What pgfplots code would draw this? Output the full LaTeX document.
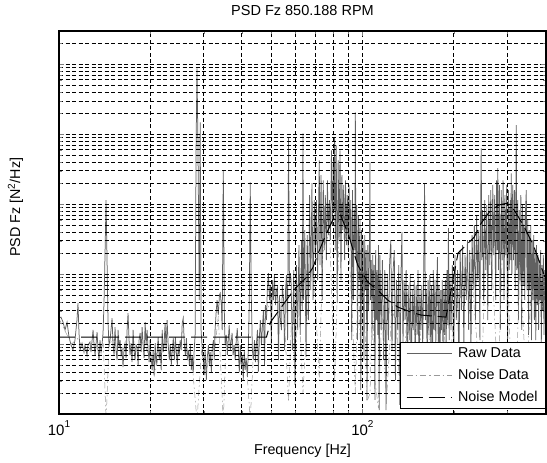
\documentclass[border=0pt]{standalone}
\usepackage{fontspec}
\setmainfont{Liberation Sans}
\usepackage{pgfplots}
\pgfplotsset{compat=1.18}
\newcommand{\tp}[1]{10\raisebox{0.9ex}{\fontsize{10}{10}\selectfont #1}}
\begin{document}
\begin{tikzpicture}
\useasboundingbox (-59pt,-49pt) rectangle (488pt,414pt);
\begin{axis}[
 at={(0pt,0pt)}, anchor=south west, scale only axis, width=487pt, height=383pt,
 xmode=log, ymode=log, xmin=10, xmax=403, ymin=1e-6, ymax=3e-1,
 xtick={10,100}, xticklabels={{\tp{1}},{\tp{2}}},
 minor xtick={20,30,40,50,60,70,80,90,200,300,400},
 ytick={1e-6,1e-5,1e-4,1e-3,1e-2,1e-1}, yticklabels={},
 minor ytick={2e-6,3e-6,4e-6,5e-6,6e-6,7e-6,8e-6,9e-6,2e-5,3e-5,4e-5,5e-5,6e-5,7e-5,8e-5,9e-5,2e-4,3e-4,4e-4,5e-4,6e-4,7e-4,8e-4,9e-4,2e-3,3e-3,4e-3,5e-3,6e-3,7e-3,8e-3,9e-3,2e-2,3e-2,4e-2,5e-2,6e-2,7e-2,8e-2,9e-2,2e-1},
 grid=both,
 major grid style={black, line width=0.8pt, dash pattern=on 4pt off 2.5pt},
 minor grid style={black, line width=0.8pt, dash pattern=on 4pt off 2.5pt},
 tick align=inside, major tick length=5pt, minor tick length=3pt,
 axis line style={line width=1.1pt},
 axis on top,
 xticklabel style={font=\fontsize{15}{15}\selectfont, anchor=base, yshift=-21pt},
 title={PSD Fz 850.188 RPM},
 title style={at={(axis description cs:0.5,1)}, anchor=base, yshift=10pt, font=\fontsize{14.5}{16}\selectfont},
 xlabel={Frequency [Hz]},
 xlabel style={at={(axis description cs:0.5,-0.107)}, anchor=base, font=\fontsize{14.3}{16}\selectfont},
 ylabel={PSD Fz [N\textsuperscript{2}/Hz]},
 ylabel style={at={(axis description cs:-0.080,0.54)}, anchor=base, font=\fontsize{14.3}{16}\selectfont},
 legend style={at={(1,0)}, anchor=south east, yshift=5pt, draw=black, line width=0.8pt, fill=white,
   font=\fontsize{14.3}{16}\selectfont, inner xsep=6pt, inner ysep=3.5pt, row sep=6pt, column sep=4pt, nodes={inner sep=2pt}},
 legend cell align=left,
 legend image code/.code={\draw[#1] (0pt,0pt) -- (45pt,0pt);},
]
\addplot[black!62, line width=0.75pt] coordinates {
(10.0,2.35e-5)(10.15,2.43e-5)(10.31,2.06e-5)(10.47,1.59e-5)(10.63,2.06e-5)(10.79,1.26e-5)(10.96,9.68e-6)(11.12,8.21e-6)(11.29,1.14e-5)(11.46,2.2e-5)(11.55,3.85e-5)(11.64,1.44e-5)(11.73,8.21e-6)(11.91,1.03e-5)(12.09,7.69e-6)(12.18,9.68e-6)(12.37,6.96e-6)(12.46,9.68e-6)(12.65,1.07e-5)(12.75,7.69e-6)(12.95,1.59e-5)(13.05,9.68e-6)(13.15,6.96e-6)(13.35,1.48e-5)(13.45,8.21e-6)(13.55,5.9e-6)(13.65,1.14e-5)(13.76,7.69e-6)(13.86,9.68e-6)(13.97,1.44e-5)(14.08,4.25e-5)(14.19,2.2e-4)(14.29,1.14e-3)(14.40,1.59e-4)(14.51,2.0e-5)(14.62,9.68e-6)
(14.73,1.14e-5)(14.84,1.59e-5)(14.96,2.35e-5)(15.07,9.68e-6)(15.19,6.96e-6)(15.30,1.75e-5)(15.42,8.21e-6)(15.54,5.9e-6)(15.66,1.59e-5)(15.78,8.77e-6)(15.90,1.14e-5)(16.02,6.96e-6)(16.14,8.21e-6)(16.26,4.69e-6)(16.39,8.77e-6)(16.51,1.03e-5)(16.64,6.31e-6)(16.77,1.59e-5)(16.89,2.77e-5)(17.02,1.14e-5)(17.15,6.96e-6)(17.28,1.03e-5)(17.41,5.53e-6)(17.55,1.59e-5)(17.68,8.21e-6)(17.81,5.9e-6)(17.95,9.68e-6)(18.09,9.06e-6)(18.23,5.01e-6)(18.37,1.14e-5)(18.51,1.44e-5)(18.65,7.69e-6)(18.79,1.75e-5)(18.94,9.68e-6)(19.08,6.31e-6)(19.23,2.06e-5)(19.37,9.68e-6)(19.52,1.59e-5)(19.67,8.21e-6)(19.82,5.53e-6)(19.97,1.14e-5)(20.12,6.31e-6)(20.28,4.25e-6)(20.43,8.21e-6)(20.6,3.61e-6)(20.75,1.03e-5)(20.91,5.01e-6)(21.07,7.69e-6)(21.23,1.26e-5)(21.4,5.9e-6)(21.56,8.77e-6)(21.72,4.25e-6)(21.89,1.59e-5)(22.05,7.69e-6)(22.2,9.68e-6)(22.37,2.0e-5)(22.54,8.21e-6)(22.72,2.2e-5)(22.89,1.03e-5)(23.1,5.9e-6)(23.27,9.68e-6)(23.45,5.01e-6)(23.63,8.21e-6)(23.81,1.22e-5)(24.0,5.9e-6)(24.18,1.26e-5)(24.36,7.69e-6)(24.55,5.01e-6)(24.73,9.68e-6)(24.9,6.96e-6)(25.09,1.14e-5)(25.28,8.21e-6)(25.48,2.0e-5)(25.67,2.35e-5)(25.9,9.68e-6)(26.1,6.96e-6)(26.3,1.22e-5)(26.5,5.9e-6)(26.7,8.21e-6)(26.9,5.01e-6)(27.1,9.68e-6)(27.3,4.25e-6)(27.5,6.96e-6)(27.7,3.85e-6)(27.9,8.21e-6)(28.1,1.35e-5)(28.3,5.9e-3)(28.5,8.77e-2)(28.7,8.21e-3)(29.0,4.25e-5)(29.2,1.48e-2)(29.4,1.59e-5)(29.6,9.68e-6)
(29.9,5.9e-6)(30.1,3.61e-6)(30.3,8.21e-6)(30.6,3.06e-6)(30.8,6.31e-6)(31.1,9.68e-6)(31.3,5.01e-6)(31.5,7.69e-6)(31.8,3.98e-6)(32.0,8.77e-6)(32.3,1.14e-5)(32.5,5.9e-6)(32.7,1.59e-5)(33.0,3.06e-5)(33.2,4.25e-5)(33.5,2.6e-5)(33.8,5.01e-5)(34.0,5.35e-5)(34.3,3.61e-5)(34.5,1.59e-5)(34.8,3.06e-3)(35.1,2.2e-5)(35.3,9.68e-6)(35.6,1.35e-5)(35.9,6.96e-6)(36.1,1.07e-5)(36.4,1.87e-5)(36.7,8.21e-6)(37.0,1.14e-5)(37.2,1.44e-5)(37.5,6.96e-6)(37.8,9.68e-6)(38.1,5.9e-6)(38.4,1.14e-5)(38.7,1.69e-5)(39.0,8.21e-6)(39.3,3.98e-6)(39.6,9.68e-6)(39.9,5.01e-6)(40.2,6.96e-6)(40.5,3.06e-6)(40.8,8.21e-6)(41.1,4.25e-6)(41.4,6.31e-6)(41.8,3.38e-6)(42.1,9.68e-6)(42.4,4.25e-5)(42.7,2.06e-3)(43.0,5.9e-5)(43.4,8.21e-6)(43.7,5.9e-6)(44.1,1.14e-5)(44.4,5.53e-6)(44.7,9.68e-6)(45.1,1.59e-5)(45.4,3.98e-6)(45.8,1.35e-5)(46.1,2.2e-5)(46.5,9.68e-6)(46.8,1.69e-5)(47.2,3.06e-5)(47.6,5.01e-6)(47.9,3.61e-5)(48.3,2.2e-5)(48.6,5.9e-5)(49.0,1.03e-4)(49.4,4.25e-5)(49.8,6.96e-5)(50.1,9.68e-6)(50.5,8.21e-5)(50.9,4.25e-5)(51.3,9.68e-5)(51.7,3.61e-5)(52.1,5.9e-5)(52.5,6.52e-5)(52.9,5.9e-6)(53.3,5.01e-5)(53.7,2.2e-5)(54.1,1.59e-5)(54.5,6.96e-5)(55.0,4.25e-5)(55.4,8.21e-6)(55.8,5.9e-5)(56.2,9.68e-5)(56.7,1.14e-5)(57.1,9.06e-3)(57.5,6.96e-5)(57.9,1.03e-4)
(58.2,8.21e-5)(58.8,8.21e-6)(59.4,1.14e-4)(60.0,2.6e-6)(60.6,1.35e-4)(61.2,1.59e-5)(61.8,2.6e-4)(62.4,1.35e-5)(63.0,3.06e-4)(63.4,3.06e-5)(63.7,1.03e-2)(64.0,4.25e-5)(64.6,4.25e-4)(65.2,6.52e-6)(65.8,3.61e-4)(66.4,2.2e-5)(67.0,1.35e-3)(67.6,5.9e-5)(68.2,2.0e-3)(68.8,4.25e-5)(69.4,1.14e-3)(70.0,1.75e-4)(70.6,1.14e-3)(71.2,8.21e-5)(71.7,8.21e-4)(72.1,4.25e-3)(72.5,1.35e-4)(73.1,2.6e-3)(73.7,4.25e-5)(74.3,2.2e-3)(74.9,2.2e-4)(75.5,1.35e-3)(76.1,1.59e-4)(76.7,2.2e-3)(77.3,3.61e-4)(77.9,1.14e-3)(78.5,3.06e-4)(79.1,5.9e-3)(79.7,5.01e-4)(80.3,4.54e-3)(80.7,8.21e-4)(81.0,9.06e-3)(81.4,2.2e-4)(82.0,6.96e-3)(82.6,3.85e-5)(83.2,4.25e-3)(83.8,3.06e-4)(84.4,5.9e-3)(85.0,8.21e-5)(85.6,2.6e-3)(86.2,4.25e-4)(86.8,1.87e-3)(87.4,1.59e-4)(88.0,2.2e-3)(88.6,2.6e-4)(89.2,1.35e-3)(89.8,2.2e-4)(90.4,1.87e-3)(91.0,3.06e-4)(91.6,1.14e-3)(92.2,1.14e-5)(92.8,1.59e-3)(93.4,4.25e-5)(94.0,8.21e-4)(94.5,2.2e-4)(94.8,2.06e-2)(95.2,1.59e-4)(95.8,9.68e-4)(96.4,1.14e-5)(97.0,6.96e-4)(97.6,8.21e-5)(98.2,5.9e-4)(98.8,2.2e-6)(99.4,4.25e-4)(100.0,4.25e-5)(100.6,3.06e-4)(101.2,5.9e-6)(101.8,3.61e-4)(102.4,5.9e-5)(103.0,2.2e-4)(103.6,1.59e-6)(104.2,2.6e-4)(104.8,3.06e-5)(105.4,1.87e-4)(105.9,3.98e-3)(106.4,4.25e-5)(107.0,1.59e-4)(107.6,1.14e-5)(108.2,1.87e-4)(108.8,3.06e-5)(109.4,1.35e-4)(110.0,1.59e-6)(110.6,2.2e-4)(111.2,2.2e-5)(111.8,1.14e-4)(112.4,1.35e-5)(113.0,2.6e-4)(113.6,1.14e-6)(114.2,1.87e-4)
(115.3,1.59e-5)(116.4,1.59e-4)(117.5,5.9e-6)(118.6,1.14e-4)(119.7,1.14e-6)(120.8,9.68e-5)(121.9,1.14e-5)(123.0,1.48e-4)(124.1,3.06e-4)(125.2,8.21e-6)(126.3,1.14e-4)(127.4,2.2e-4)(128.5,3.06e-6)(129.6,8.21e-5)(130.7,1.59e-5)(131.8,1.35e-4)(132.9,1.35e-6)(134.0,9.68e-5)(135.0,3.98e-4)(136.1,9.68e-6)(137.2,8.21e-5)(138.3,2.2e-5)(139.4,1.14e-4)(140.5,4.25e-6)(141.6,6.96e-5)(142.7,1.14e-5)(143.8,9.68e-5)(144.9,1.87e-6)(146.0,5.9e-5)(147.1,1.59e-5)(148.2,8.21e-5)(149.3,5.9e-6)(150.4,6.96e-5)(151.5,1.35e-5)(152.6,1.14e-4)(153.7,3.06e-6)(154.8,5.9e-5)(155.9,1.59e-5)(157.0,6.96e-5)(158.1,8.21e-6)(159.2,8.21e-5)(160.3,2.0e-3)(161.4,2.2e-5)(162.5,5.9e-5)(163.6,4.25e-6)(164.7,8.21e-5)(165.8,1.35e-5)(166.9,9.68e-5)(168.0,9.68e-6)(169.1,6.96e-5)(170.2,2.2e-6)(171.3,1.14e-4)(172.4,1.59e-5)(173.5,8.21e-5)(174.6,9.68e-6)(175.7,5.9e-5)(176.8,1.75e-4)(177.9,8.21e-6)(179.0,6.96e-5)(180.1,1.59e-6)(181.2,5.9e-5)(182.3,1.59e-5)(183.4,8.21e-5)(184.5,5.9e-6)(185.6,5.9e-5)(186.7,1.35e-5)(187.8,8.21e-5)(188.9,8.21e-6)(190.0,1.14e-4)(191.1,1.87e-5)(192.2,4.54e-4)(193.3,1.14e-5)(194.4,9.68e-5)
(196,1.59e-5)(198,1.35e-4)(200,5.9e-6)(202,1.87e-4)(204,2.2e-5)(206,1.14e-4)(208,4.25e-6)(210,2.2e-4)(212,3.06e-5)(214,2.6e-4)(216,9.68e-6)(218,1.87e-4)(220,4.25e-5)(222,3.06e-4)(224,1.59e-5)(226,2.2e-4)(228,8.21e-6)(230,3.61e-4)(232,5.9e-5)(234,5.01e-4)(236,2.2e-5)(238,6.96e-4)(240,8.21e-5)(242,4.25e-4)(244,1.14e-5)(245.2,5.9e-4)(246.4,6.31e-3)(247.6,1.59e-4)(249,8.21e-4)(251,4.25e-5)(253,1.14e-3)(255,1.14e-4)(257,9.68e-4)(259,2.2e-5)(261,1.35e-3)(263,1.35e-4)(265,1.59e-3)(267,5.9e-5)(269,1.87e-3)(271,1.87e-4)(273,1.35e-3)(275,4.25e-5)(277,2.2e-3)(278.5,2.2e-4)(279.5,3.27e-3)(281,1.14e-4)(283,1.87e-3)(285,1.59e-5)(287,1.59e-3)(289,1.59e-4)(291,2.2e-3)(293,4.25e-5)(295,1.35e-3)(297,1.87e-4)(299,1.87e-3)(301,8.21e-6)(303,1.59e-3)(305,1.14e-4)(307,1.14e-3)(308.5,1.59e-4)(309.5,2.77e-3)(311,9.68e-5)(313,1.87e-3)(315,1.59e-4)(317,1.59e-3)(319,5.9e-5)(320.5,1.14e-3)(321.6,1.35e-2)(323,1.14e-4)(325,1.14e-3)(327,2.2e-5)(329,8.21e-4)(331,8.21e-5)(333,1.35e-3)(335,1.59e-5)(337,9.68e-4)(339,6.96e-5)(341,6.96e-4)(343,4.25e-5)(345,8.21e-4)(347,1.59e-3)(349,5.9e-5)(351,5.9e-4)(353,1.35e-5)(355,4.25e-4)(357,5.9e-5)(359,5.01e-4)(361,1.14e-5)(363,3.06e-4)(365,4.25e-5)(367,3.61e-4)(369,2.2e-5)(371,2.2e-4)(373,1.14e-5)(375,2.6e-4)(377,3.61e-5)(379,1.87e-4)(381,1.59e-5)(383,1.59e-4)(385,4.25e-5)(387,2.2e-4)(389,9.68e-6)(391,1.35e-4)(393,3.06e-5)(395,1.87e-4)(397,1.35e-5)(399,1.14e-4)(401,4.25e-5)(403,1.59e-4)
};
\addlegendentry{Raw Data}
\addplot[black!40, line width=0.5pt, dash pattern=on 6pt off 3pt on 1.5pt off 3pt] coordinates {
(10,2.3e-5)(10.5,1.5e-5)(11,1e-5)(11.5,1.2e-5)(12,9e-6)(12.5,8e-6)(13,1.1e-5)(13.5,8e-6)(14,1e-5)(14.3,8e-7)(14.6,9e-6)(15,1.2e-5)(16,8e-6)(17,1e-5)(18,8e-6)(19,1.1e-5)(20,6e-6)(20.6,3.5e-6)(21.5,8e-6)(22.5,1.2e-5)(23.5,8e-6)(24.5,7e-6)(25.5,1.5e-5)(26.5,7e-6)(27.5,5e-6)(28.5,8e-7)(29.5,8e-6)(30.5,4e-6)(31.5,7e-6)(32.5,7e-6)(33.5,2.5e-5)(34.8,8e-7)(35.5,1e-5)(36.5,1.2e-5)(37.5,8e-6)(38.5,1.1e-5)(39.5,6e-6)(40.5,4e-6)(41.5,5e-6)(42.7,8e-7)(43.7,7e-6)(45,1.2e-5)(46.5,1.5e-5)(48,2.5e-5)(49.5,4e-5)(51,5e-5)(53,4e-5)(55,3.5e-5)(57.1,1.5e-6)(58.5,3e-5)(60,3e-6)(61.5,6e-5)(63.7,2e-6)(65,1e-5)(67,8e-5)(69,1.5e-4)(72.1,3e-6)(74,2e-4)(76,3e-4)(78,4e-4)(81,3e-6)(84,5e-4)(87,4e-4)(90,3e-4)(92.5,3e-5)(94.8,2e-6)(97,1.5e-4)(99,3e-6)(101,8e-5)(103.6,1.5e-6)(106,2e-6)(108,5e-5)(110,3e-6)(113,1.2e-6)(116,3e-5)(120,1.5e-6)(125,3e-5)(130,2e-5)(133,1.5e-6)(135.5,1.5e-6)(140,2.5e-5)(145,1.5e-6)(150,2e-5)(155,1.5e-5)(160,1.5e-6)(165,2e-5)(170,2e-6)(176.8,1.5e-6)(180,2e-6)(185,2.5e-5)(192,1.5e-6)(200,3e-5)(210,5e-5)(220,6e-5)(230,8e-5)(246,2e-6)(255,2e-4)(265,3e-4)(280,2.5e-6)(290,3e-4)(300,2e-4)(309.5,3e-6)(321.6,2.5e-6)(330,1.5e-4)(347,3e-6)(360,6e-5)(380,4e-5)(403,3e-5)
};
\addlegendentry{Noise Data}
\addplot[black, line width=1pt, dash pattern=on 16pt off 6pt] coordinates {
(10,1.26e-5)(48.3,1.26e-5)(49.8,2.06e-5)(59.35,5.9e-5)(65.0,8.77e-5)(68.55,1.22e-4)(71.75,2.06e-4)(75.7,3.61e-4)(79.8,5.9e-4)(84.8,6.96e-4)(90.1,3.61e-4)(96.5,1.35e-4)(104.2,7.69e-5)(112.4,5.9e-5)(121.3,4.25e-5)(130.9,3.38e-5)(144.5,2.87e-5)(156.0,2.6e-5)(188.7,2.43e-5)(197.5,6.96e-5)(206.7,2.0e-4)(219.8,2.6e-4)(233.6,3.38e-4)(246.4,5.35e-4)(261.8,7.69e-4)(280.4,9.68e-4)(298.0,1.03e-3)(316.8,8.21e-4)(339.3,5.01e-4)(366.1,2.6e-4)(403,8.21e-5)
};
\addlegendentry{Noise Model}
\end{axis}
\end{tikzpicture}
\end{document}
